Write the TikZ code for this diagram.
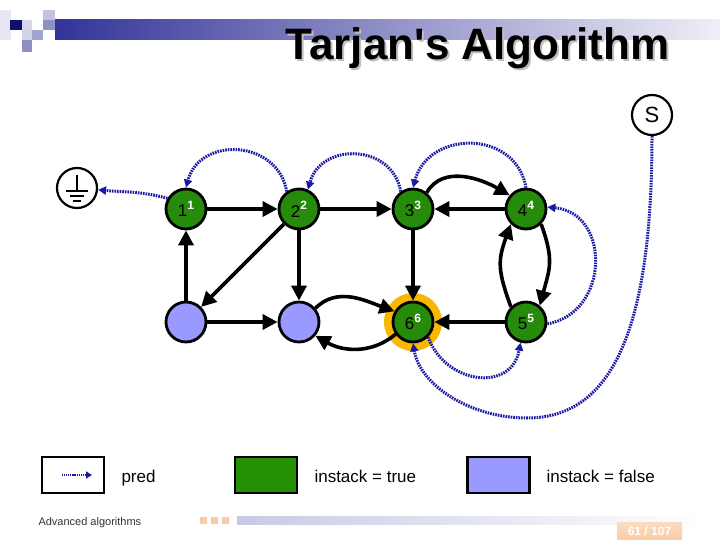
\documentclass[tikz,border=0pt]{standalone}
\usepackage{fontspec}
\setmainfont{Liberation Sans}
\newfontfamily\titlefont{Liberation Sans}[Ligatures=TeXOff]
\usetikzlibrary{arrows.meta}
\definecolor{onstack}{RGB}{38,138,10}
\definecolor{legendgreen}{RGB}{37,144,4}
\definecolor{offstack}{RGB}{153,153,255}
\definecolor{predblue}{RGB}{25,25,165}
\definecolor{halo}{RGB}{248,184,0}
\definecolor{barblue}{RGB}{51,51,153}
\definecolor{navy}{RGB}{15,15,110}
\definecolor{peach}{RGB}{250,204,165}
\definecolor{footbar}{RGB}{200,202,228}
\newcommand{\vlab}[1]{#1\raisebox{0.45em}{\fontsize{12}{12}\selectfont\bfseries\color{white}#1}}
\begin{document}
\begin{tikzpicture}[x=1pt,y=1pt,
  vtx/.style={circle,draw=black,line width=2.8pt,minimum size=40pt,inner sep=0pt,font=\fontsize{17}{17}\selectfont},
  inst/.style={vtx,fill=onstack},
  outst/.style={vtx,fill=offstack},
  link/.style={line width=3.6pt,-{Triangle[length=15pt,width=15pt]}},
  predarr/.style={predblue,line width=3pt,dash pattern=on 1.6pt off 1pt,-{Triangle[length=8pt,width=8pt]}},
  keybox/.style={draw=black,line width=2.6pt,minimum width=62pt,minimum height=36pt,inner sep=0pt},
  keytext/.style={anchor=base west,font=\fontsize{17}{17}\selectfont}]
\useasboundingbox (0,0) rectangle (720,-540);
\fill[white] (0,0) rectangle (720,-540);
% header
\fill[barblue!12] (0,-10) rectangle (11,-40);
\fill[navy] (10,-20) rectangle (22,-30);
\fill[barblue!20] (22,-20) rectangle (32,-30);
\fill[barblue!30] (43,-10) rectangle (55,-20);
\fill[barblue!55] (43,-20) rectangle (55,-30);
\fill[barblue!22] (22,-30) rectangle (32,-40);
\fill[barblue!45] (32,-30) rectangle (43,-40);
\fill[barblue!55] (22,-40) rectangle (32,-52);
\shade[left color=barblue,right color=barblue!8] (55,-20) rectangle (720,-40);
\node[anchor=base east,font=\fontsize{44}{44}\titlefont\bfseries,text=gray!50] at (675,-62) {Tarjan's Algorithm};
\node[anchor=base east,font=\fontsize{44}{44}\titlefont\bfseries] (title) at (673,-60) {Tarjan's Algorithm};
% graph
\node[circle,fill=halo,minimum size=58pt,inner sep=0pt] (glow) at (413,-322) {};
\node[inst] (n1) at (186,-209) {\vlab{1}};
\node[inst] (n2) at (299,-209) {\vlab{2}};
\node[inst] (n3) at (413,-209) {\vlab{3}};
\node[inst] (n4) at (526,-209) {\vlab{4}};
\node[inst] (n5) at (526,-322) {\vlab{5}};
\node[inst] (n6) at (413,-322) {\vlab{6}};
\node[outst] (b1) at (186,-322) {};
\node[outst] (b2) at (299,-322) {};
\node[circle,draw=black,line width=2.2pt,minimum size=40pt,inner sep=0pt] (gnd) at (77,-188) {};
\draw[line width=1.3pt] (77,-175) -- (77,-191) (66,-191) -- (88,-191) (70,-196) -- (84,-196) (73,-201) -- (81,-201);
\node[circle,draw=black,line width=2.2pt,minimum size=40pt,inner sep=0pt,font=\fontsize{22}{22}\selectfont] (s) at (652,-115) {S};
\draw[link] (n1) -- (n2);
\draw[link] (n2) -- (n3);
\draw[link] (n4) -- (n3);
\draw[link] (n5) -- (n6);
\draw[link] (n3) -- (n6);
\draw[link] (b1) -- (n1);
\draw[link] (b1) -- (b2);
\draw[link] (n2) -- (b2);
\draw[link] (n2) -- (b1);
\draw[link] (n3.50) to[out=60,in=150] (n4.140);
\draw[link] (n4.-45) to[out=-70,in=75,looseness=1.2] (n5.50);
\draw[link] (n5.135) to[out=110,in=-110,looseness=1.2] (n4.225);
\draw[link] (b2.40) to[out=45,in=160] (n6.150);
\draw[link] (n6.215) to[out=-140,in=-30] (b2.-40);
% pred pointers
\draw[predarr] (n1.150) to[out=165,in=-5] (gnd);
\draw[predarr] (n2.125) to[out=100,in=75,looseness=1.35] (n1.north);
\draw[predarr] (n3.125) to[out=100,in=75,looseness=1.35] (n2.65);
\draw[predarr] (n4.north) to[out=100,in=75,looseness=1.35] (n3.north);
\draw[predarr] (n5.-5) to[out=10,in=-5,looseness=1.4] (n4.5);
\draw[predarr] (n6.-45) to[out=-70,in=-100,looseness=1.4] (n5.-105);
\draw[predarr] (s.south) .. controls (652,-330) and (612,-418) .. (527,-418) .. controls (470,-418) and (420,-385) .. (n6.south);
% legend
\node[keybox] (kpred) at (73,-475) {};
\coordinate (kpa) at (62,-475);
\coordinate (kpb) at (92,-475);
\draw[predblue,line width=2.2pt,dash pattern=on 1.1pt off 0.8pt,-{Triangle[length=6pt,width=7pt]}] (kpa) -- (kpb);
\node[keytext] (tpred) at (118,-482) {pred};
\node[keybox,fill=legendgreen] (kon) at (266,-475) {};
\node[keytext] (ton) at (311,-482) {instack = true};
\node[keybox,fill=offstack] (koff) at (498.5,-475) {};
\node[keytext] (toff) at (543,-482) {instack = false};
% footer
\node[anchor=base west,font=\fontsize{11}{11}\selectfont,text=black!80] (course) at (35,-525) {Advanced algorithms};
\fill[peach] (200,-517) rectangle (207,-524) (211,-517) rectangle (218,-524) (222,-517) rectangle (229,-524);
\shade[left color=footbar,right color=white] (237,-516) rectangle (705,-524);
\shade[top color=peach!70,bottom color=peach] (617,-522) rectangle (682,-540);
\node[font=\fontsize{12}{12}\selectfont\bfseries,text=white] (page) at (649.5,-531) {61 / 107};
\end{tikzpicture}
\end{document}
